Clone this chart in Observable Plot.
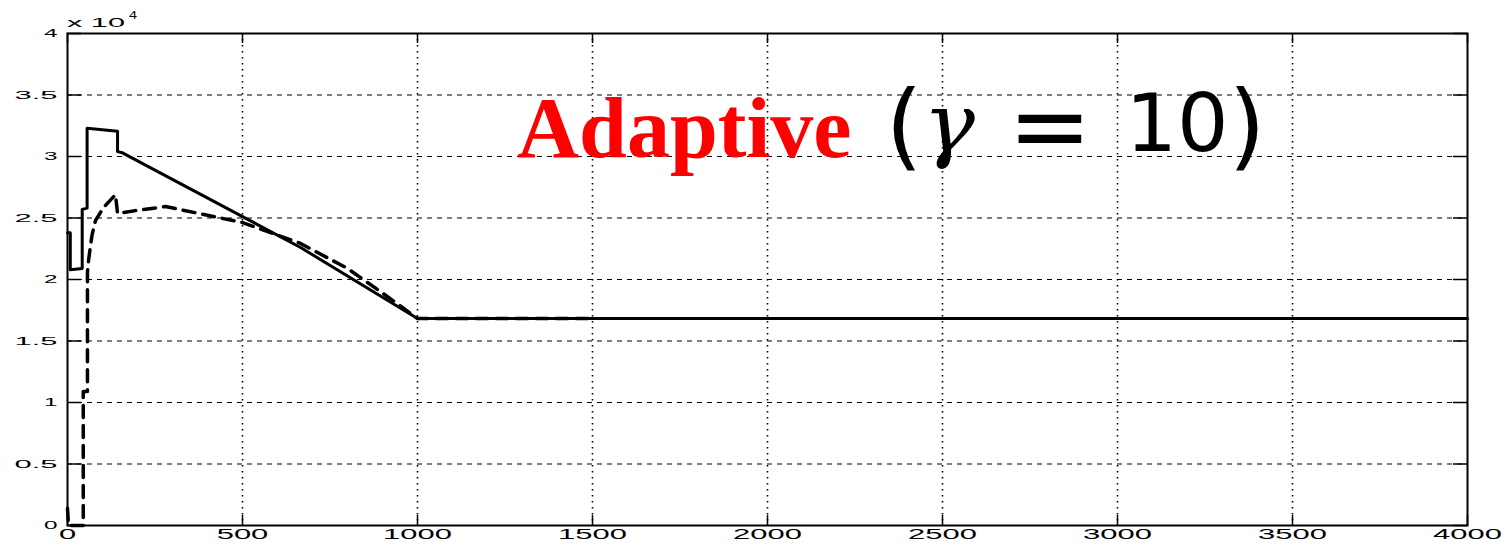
<!DOCTYPE html>
<html><head><meta charset="utf-8">
<script src="https://cdn.jsdelivr.net/npm/d3@7"></script>
<script src="https://cdn.jsdelivr.net/npm/@observablehq/plot@0.6"></script>
<style>body{margin:0;background:#fff} #chart{width:1509px;height:545px;overflow:hidden}</style>
</head><body><div id="chart"></div>
<script>
// ---- data ----
const solidX = [0, 8, 8, 42, 42, 56, 56, 143, 143, 157, 666, 1000, 4000];
const solidY = [23800, 23800, 20800, 20900, 25700, 25800, 32300, 32050, 30400, 30300, 22600, 16830, 16830];
const dashX = [0, 3, 45, 45, 57, 57, 60, 65, 70, 80, 103, 137, 143, 194, 280, 500, 666, 800, 900, 1000, 1500];
const dashY = [1400, 0, 0, 10900, 10900, 20600, 21500, 22600, 23600, 24800, 25850, 26900, 25370, 25600, 25930, 24630, 22930, 20900, 18900, 16830, 16830];
const xTicks = [0, 500, 1000, 1500, 2000, 2500, 3000, 3500, 4000];
const xTickLabels = ["0", "500", "1000", "1500", "2000", "2500", "3000", "3500", "4000"];
const yTicks = [0, 5000, 10000, 15000, 20000, 25000, 30000, 35000, 40000];
const yTickLabels = ["0", "0.5", "1", "1.5", "2", "2.5", "3", "3.5", "4"];
const xGrid = [500, 1000, 1500, 2000, 2500, 3000, 3500];
const yGrid = [5000, 10000, 15000, 20000, 25000, 30000, 35000];
const titleWord = "Adaptive";
const mathParts = ["(", "γ", "=", "10", ")"];
const exponentBase = "x 10";
const exponentPower = "4";

const solid = solidX.map((x, i) => ({x, y: solidY[i]}));
const dashed = dashX.map((x, i) => ({x, y: dashY[i]}));

const W = 1509, H = 545, ML = 67, MR = 42, MT = 33, MB = 20;
const PW = W - ML - MR, PH = H - MT - MB;
const sans = "'Liberation Sans', Arial, Helvetica, sans-serif";

const plot = Plot.plot({
  width: W, height: H,
  marginLeft: ML, marginRight: MR, marginTop: MT, marginBottom: MB,
  style: {background: "white", overflow: "visible"},
  x: {domain: [0, 4000], axis: null},
  y: {domain: [0, 40000], axis: null},
  marks: [
    Plot.ruleX(xGrid, {x: d => d, stroke: "#000", strokeWidth: 1.6, strokeDasharray: "1.6,4.4"}),
    Plot.ruleY(yGrid, {y: d => d, stroke: "#000", strokeWidth: 1.2, strokeDasharray: "5,5"}),
    Plot.tickY(yTicks, {y: d => d, insetRight: PW - 14, stroke: "#000", strokeWidth: 1.5}),
    Plot.tickY(yTicks, {y: d => d, insetLeft: PW - 14, stroke: "#000", strokeWidth: 1.5}),
    Plot.tickX(xTicks, {x: d => d, insetTop: PH - 10, stroke: "#000", strokeWidth: 1.5}),
    Plot.tickX(xTicks, {x: d => d, insetBottom: PH - 10, stroke: "#000", strokeWidth: 1.5}),
    Plot.line(dashed, {x: "x", y: "y", stroke: "#000", strokeWidth: 3.5, strokeDasharray: "12,8"}),
    Plot.line(solid, {x: "x", y: "y", stroke: "#000", strokeWidth: 3}),
    Plot.frame({stroke: "#000", strokeWidth: 2}),
    Plot.text(yTicks, {y: d => d, frameAnchor: "left", dx: -10, textAnchor: "end",
      text: (d, i) => yTickLabels[i], fontSize: 11.5, fontFamily: sans, fill: "#000", ariaDescription: "ylabels"}),
    Plot.text(xTicks, {x: d => d, frameAnchor: "bottom", dy: 13,
      text: (d, i) => xTickLabels[i], fontSize: 14, fontFamily: sans, fill: "#000", ariaDescription: "xlabels"})
  ]
});
document.getElementById("chart").appendChild(plot);

// stretch tick labels horizontally like the reference
function stretch(nodes, digitW, dotW) {
  nodes.forEach(n => {
    const t = n.textContent;
    const dots = (t.match(/\./g) || []).length;
    const digits = t.length - dots;
    n.setAttribute("textLength", digits * digitW + dots * dotW);
    n.setAttribute("lengthAdjust", "spacingAndGlyphs");
  });
}
let yl = plot.querySelectorAll('g[aria-description="ylabels"] text');
let xl = plot.querySelectorAll('g[aria-description="xlabels"] text');
if (!yl.length || !xl.length) {
  const groups = plot.querySelectorAll('g[aria-label="text"]');
  yl = groups[0].querySelectorAll("text");
  xl = groups[1].querySelectorAll("text");
}
stretch(yl, 13.5, 16);
stretch(xl, 17.2, 12);

const svg = d3.select(plot);
// x 10^4 exponent label
svg.append("text").attr("text-anchor", "start").attr("x", 67).attr("y", 27).attr("font-family", sans).attr("font-size", 12.5)
  .attr("textLength", 58).attr("lengthAdjust", "spacingAndGlyphs").attr("fill", "#000").text(exponentBase);
svg.append("text").attr("text-anchor", "start").attr("x", 129).attr("y", 19).attr("font-family", sans).attr("font-size", 10)
  .attr("textLength", 8).attr("lengthAdjust", "spacingAndGlyphs").attr("fill", "#000").text(exponentPower);

// title
svg.append("text").attr("text-anchor", "start").attr("x", 517).attr("y", 157)
  .attr("font-family", "'Liberation Serif', 'Times New Roman', serif").attr("font-weight", "bold")
  .attr("font-size", 86).attr("fill", "#ff0000").text(titleWord);
const mathFont = "'DejaVu Sans', sans-serif";
svg.append("text").attr("text-anchor", "middle").attr("x", 904).attr("y", 158).attr("font-family", mathFont).attr("font-size", 95).attr("fill", "#000").text(mathParts[0]);
svg.append("text").attr("text-anchor", "start").attr("x", 923).attr("y", 152).attr("font-family", "'DejaVu Serif', serif").attr("font-style", "italic").attr("font-size", 82)
  .attr("textLength", 52).attr("lengthAdjust", "spacingAndGlyphs").attr("fill", "#000").text(mathParts[1]);
svg.append("text").attr("text-anchor", "middle").attr("x", 1050).attr("y", 160).attr("font-family", mathFont).attr("font-size", 100).attr("fill", "#000").text(mathParts[2]);
svg.append("text").attr("text-anchor", "middle").attr("x", 1177).attr("y", 151).attr("font-family", mathFont).attr("font-size", 81).attr("fill", "#000").text(mathParts[3]);
svg.append("text").attr("text-anchor", "middle").attr("x", 1247).attr("y", 158).attr("font-family", mathFont).attr("font-size", 95).attr("fill", "#000").text(mathParts[4]);
</script>
</body></html>
